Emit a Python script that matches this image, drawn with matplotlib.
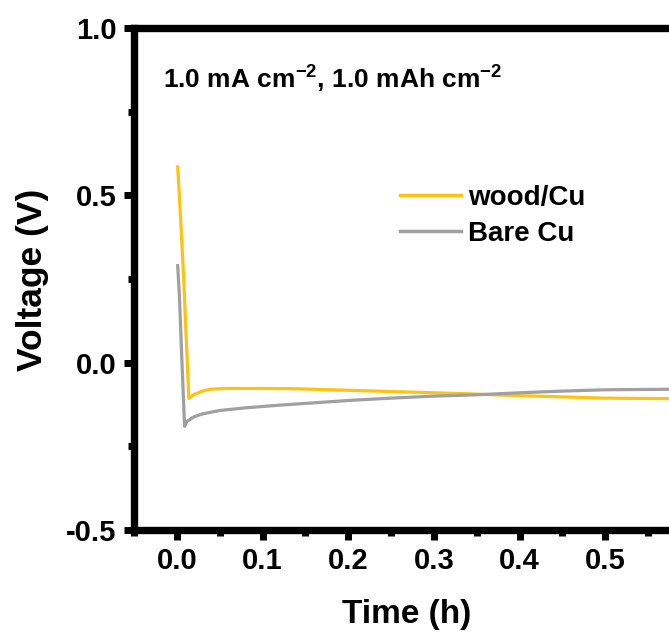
import matplotlib
matplotlib.use("Agg")
import matplotlib.pyplot as plt

# Voltage vs time for Cu nucleation
wood_time = [0.001, 0.004, 0.008, 0.014, 0.02, 0.03, 0.04, 0.06, 0.1, 0.14, 0.18,
             0.22, 0.26, 0.3, 0.34, 0.38, 0.42, 0.46, 0.5, 0.55, 0.6]
wood_volt = [0.585, 0.45, 0.25, -0.107, -0.095, -0.085, -0.079, -0.077, -0.077, -0.078,
             -0.081, -0.084, -0.087, -0.09, -0.093, -0.097, -0.1, -0.103, -0.106, -0.107, -0.108]

bare_time = [0.001, 0.003, 0.006, 0.009, 0.012, 0.02, 0.03, 0.05, 0.08, 0.12, 0.16,
             0.2, 0.25, 0.3, 0.35, 0.4, 0.45, 0.5, 0.55, 0.6]
bare_volt = [0.29, 0.2, 0.0, -0.19, -0.175, -0.162, -0.153, -0.143, -0.135, -0.127, -0.12,
             -0.113, -0.106, -0.1, -0.096, -0.09, -0.085, -0.081, -0.08, -0.079]

x_ticks = [0.0, 0.1, 0.2, 0.3, 0.4, 0.5]
y_ticks = [-0.5, 0.0, 0.5, 1.0]

plt.rcParams['font.family'] = ['Liberation Sans', 'DejaVu Sans']
plt.rcParams['font.weight'] = 'bold'
plt.rcParams['mathtext.fontset'] = 'custom'
plt.rcParams['mathtext.rm'] = 'Liberation Sans:bold'
plt.rcParams['mathtext.bf'] = 'Liberation Sans:bold'
plt.rcParams['mathtext.it'] = 'Liberation Sans:bold'
plt.rcParams['mathtext.default'] = 'bf'

W, H = 669, 639
fig = plt.figure(figsize=(W / 100, H / 100), dpi=100)
left, right, top, bottom = 134, 672, 28, 530
ax = fig.add_axes([left / W, 1 - bottom / H, (right - left) / W, (bottom - top) / H])

ax.plot(wood_time, wood_volt, color='#FFC20E', lw=2.3, label='wood/Cu')
ax.plot(bare_time, bare_volt, color='#A0A0A0', lw=2.3, label='Bare Cu')

ax.set_xlim(-0.05, 0.578)
ax.set_ylim(-0.5, 1.0)
ax.set_xticks(x_ticks)
ax.set_xticklabels(['%.1f' % t for t in x_ticks])
ax.set_yticks(y_ticks)
ax.set_yticklabels(['%.1f' % t for t in y_ticks])
ax.set_xticks([-0.05, 0.05, 0.15, 0.25, 0.35, 0.45, 0.55], minor=True)
ax.set_yticks([-0.25, 0.25, 0.75], minor=True)

for s in ['left', 'top', 'bottom']:
    ax.spines[s].set_linewidth(5.3)
ax.spines['right'].set_visible(False)
ax.tick_params(which='major', direction='out', length=7.5, width=5, labelsize=21, pad=5)
ax.tick_params(which='minor', direction='out', length=4.5, width=5)

fig.text(33 / W, 1 - 280 / H, 'Voltage (V)', rotation=90, fontsize=25.5,
         fontweight='bold', ha='center', va='center')
fig.text(407 / W, 1 - 614 / H, 'Time (h)', fontsize=24, fontweight='bold',
         ha='center', va='center')

ax.text(163 / W, 1 - 79 / H, '1.0 mA cm$^{-2}$, 1.0 mAh cm$^{-2}$', transform=fig.transFigure,
        fontsize=19, fontweight='bold', ha='left', va='center')

leg = ax.legend(loc='upper left', bbox_to_anchor=(400 / W, 1 - 185 / H),
                bbox_transform=fig.transFigure, frameon=False, fontsize=20,
                handlelength=2.2, handletextpad=0.25, labelspacing=0.35,
                borderpad=0, borderaxespad=0)
for line in leg.get_lines():
    line.set_linewidth(2.5)

fig.savefig('out.png', dpi=100)
